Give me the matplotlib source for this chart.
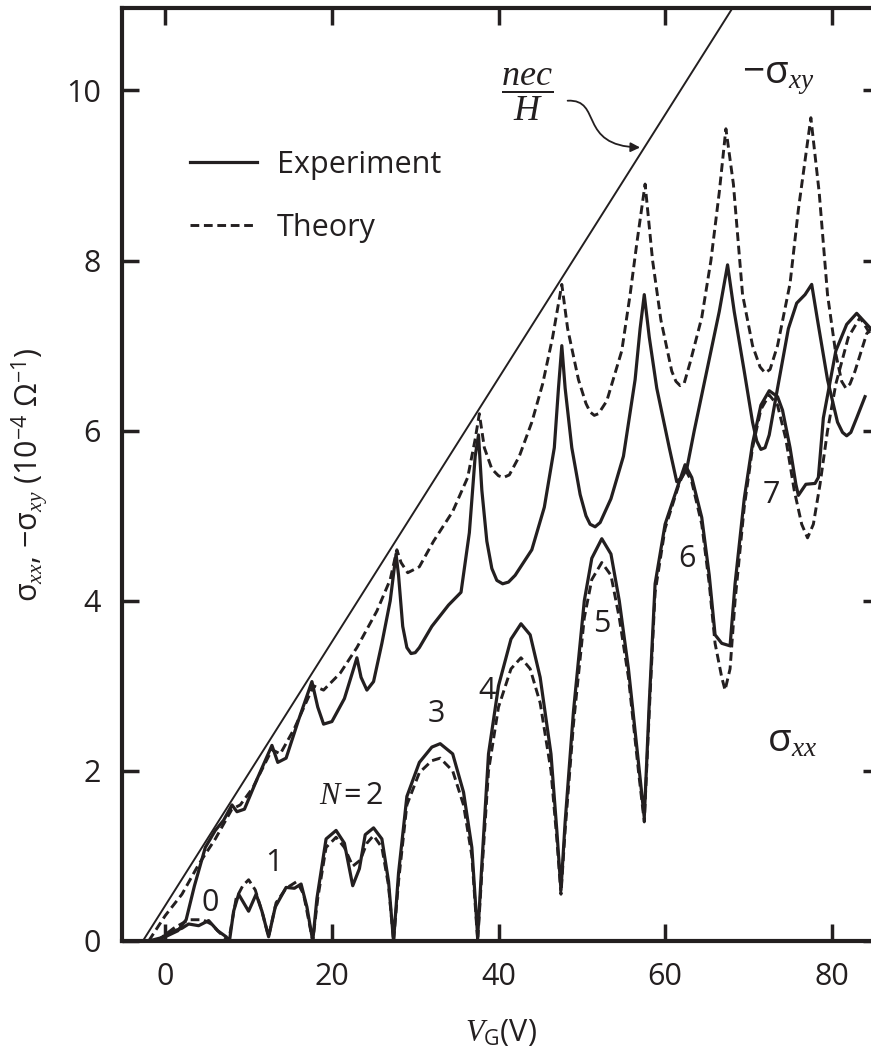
import matplotlib
matplotlib.use("Agg")
import matplotlib.pyplot as plt
import matplotlib.patches as mpatches
from matplotlib.path import Path

plt.rcParams['font.family'] = ['Open Sans', 'DejaVu Sans']
plt.rcParams['mathtext.fontset'] = 'custom'
plt.rcParams['mathtext.rm'] = 'Open Sans'
plt.rcParams['mathtext.it'] = 'Liberation Serif:italic'
plt.rcParams['mathtext.sf'] = 'Open Sans'
plt.rcParams['mathtext.fallback'] = 'stix'

INK = '#231f20'

# nec/H straight line
nec_x = [-2.7, 71.0]
nec_y = [0.0, 11.42]

# -sigma_xy, experiment
xy_exp_x = [-2.0, 0.0, 1.5, 2.5, 3.5, 4.8, 6.0, 7.0, 8.0, 8.6, 9.5, 11.0, 12.8, 13.5, 14.5,
            16.0, 17.6, 18.3, 19.0, 20.0, 21.5, 22.6, 23.0, 23.5, 24.2, 25.0, 26.0, 27.0, 27.7,
            28.0, 28.5, 29.0, 29.5, 30.0, 30.5, 32.0, 34.0, 35.5, 36.5, 37.2, 37.6, 38.0, 38.6,
            39.2, 39.8, 40.5, 41.2, 42.0, 44.0, 45.5, 46.7, 47.2, 47.6, 48.0, 48.8, 49.8, 50.5,
            51.0, 51.6, 52.2, 53.5, 55.0, 56.4, 57.0, 57.5, 58.1, 59.0, 60.5, 61.4, 62.0, 62.6,
            63.5, 65.0, 66.5, 67.5, 68.3, 69.5, 70.5, 71.0, 71.5, 72.0, 72.5, 73.5, 74.8, 75.8,
            76.8, 77.6, 78.3, 79.5, 80.7, 81.3, 81.8, 82.3, 83.0, 84.0]
xy_exp_y = [0.0, 0.05, 0.12, 0.25, 0.65, 1.1, 1.3, 1.42, 1.6, 1.52, 1.55, 1.9, 2.3, 2.1, 2.15,
            2.6, 3.05, 2.75, 2.55, 2.58, 2.85, 3.2, 3.33, 3.1, 2.95, 3.05, 3.5, 4.0, 4.55,
            4.3, 3.7, 3.45, 3.38, 3.39, 3.45, 3.7, 3.95, 4.1, 4.8, 5.7, 5.95, 5.3, 4.7,
            4.38, 4.24, 4.2, 4.22, 4.3, 4.6, 5.1, 5.8, 6.5, 7.0, 6.5, 5.8, 5.25, 5.0,
            4.9, 4.87, 4.92, 5.2, 5.7, 6.6, 7.2, 7.6, 7.1, 6.5, 5.8, 5.4, 5.45, 5.55,
            6.0, 6.7, 7.4, 7.95, 7.4, 6.7, 6.1, 5.88, 5.78, 5.8, 5.95, 6.5, 7.2, 7.5,
            7.6, 7.72, 7.3, 6.6, 6.1, 5.98, 5.94, 5.98, 6.15, 6.4]

# -sigma_xy, theory
xy_th_x = [-2.0, 0.0, 2.0, 4.0, 6.0, 8.0, 9.0, 10.5, 12.8, 13.8, 15.5, 17.8, 19.0, 21.0, 23.0,
           25.4, 27.0, 27.8, 28.3, 29.1, 30.5, 32.2, 34.5, 36.3, 37.2, 37.7, 38.3, 39.2, 40.0,
           40.6, 41.3, 42.5, 44.0, 45.3, 46.5, 47.6, 48.3, 49.6, 50.5, 51.0, 51.5, 52.0, 53.0,
           54.8, 55.8, 56.6, 57.6, 58.5, 59.5, 60.8, 61.3, 61.8, 62.3, 63.0, 64.4, 65.5, 66.5,
           67.3, 68.2, 69.3, 70.5, 71.4, 72.0, 72.6, 73.5, 75.0, 76.0, 77.5, 78.5, 79.5, 80.5,
           81.2, 81.7, 82.2, 82.8, 84.2, 85.5]
xy_th_y = [0.0, 0.3, 0.55, 0.9, 1.2, 1.55, 1.6, 1.8, 2.25, 2.2, 2.5, 3.0, 2.95, 3.15, 3.45,
           3.88, 4.25, 4.6, 4.45, 4.33, 4.4, 4.7, 5.05, 5.45, 5.9, 6.2, 5.8, 5.55, 5.47,
           5.45, 5.48, 5.7, 6.1, 6.55, 7.1, 7.72, 7.2, 6.6, 6.32, 6.22, 6.18, 6.2, 6.35,
           6.94, 7.6, 8.2, 8.9, 8.0, 7.3, 6.7, 6.58, 6.53, 6.56, 6.8, 7.33, 8.0, 8.8,
           9.55, 8.9, 7.6, 7.0, 6.75, 6.68, 6.72, 7.0, 7.73, 8.6, 9.68, 8.8, 7.6, 6.9,
           6.58, 6.5, 6.55, 6.7, 7.14, 7.3]

# sigma_xx, experiment
xx_exp_x = [-1.0, 0.5, 2.0, 2.8, 4.0, 5.2, 6.3, 7.3, 7.7, 8.2, 8.8, 9.4, 10.0, 10.9, 11.6, 12.4,
            13.2, 14.5, 15.5, 16.3, 17.0, 17.7, 18.2, 19.3, 20.5, 21.5, 22.5, 23.3, 24.0, 25.0,
            26.0, 26.8, 27.4, 28.0, 29.0, 30.5, 32.0, 33.0, 34.5, 35.8, 36.8, 37.5, 38.0, 38.8,
            40.0, 41.5, 42.7, 43.8, 45.0, 46.3, 47.0, 47.5, 48.0, 49.0, 50.3, 51.2, 52.4, 53.5,
            54.5, 55.6, 56.8, 57.5, 58.1, 58.8, 60.0, 61.6, 62.4, 63.2, 64.4, 65.3, 66.0, 66.8,
            67.8, 68.4, 69.5, 70.5, 71.5, 72.5, 73.5, 74.1, 75.0, 75.7, 76.0, 76.9, 78.0, 78.4,
            79.0, 80.5, 81.8, 83.0, 84.6]
xx_exp_y = [0.0, 0.1, 0.15, 0.2, 0.18, 0.24, 0.12, 0.05, 0.0, 0.35, 0.55, 0.45, 0.35, 0.55, 0.35, 0.05,
            0.4, 0.63, 0.62, 0.67, 0.4, 0.0, 0.5, 1.2, 1.3, 1.15, 0.65, 0.85, 1.25, 1.33,
            1.2, 0.7, 0.0, 0.8, 1.7, 2.1, 2.28, 2.32, 2.2, 1.75, 1.1, 0.05, 0.9, 2.2,
            3.0, 3.55, 3.73, 3.6, 3.1, 2.2, 1.3, 0.6, 1.4, 2.7, 4.0, 4.5, 4.73, 4.55,
            4.0, 3.2, 2.1, 1.45, 2.8, 4.2, 4.9, 5.37, 5.6, 5.45, 4.98, 4.3, 3.6, 3.5,
            3.47, 4.2, 5.2, 5.85, 6.3, 6.47, 6.4, 6.24, 5.8, 5.37, 5.24, 5.37, 5.38, 5.45,
            6.15, 6.94, 7.25, 7.38, 7.21]

# sigma_xx, theory
xx_th_x = [-1.0, 1.0, 2.8, 4.5, 5.5, 6.5, 7.6, 8.5, 9.3, 10.0, 10.8, 11.6, 12.4, 13.3, 14.5,
           15.8, 16.6, 17.7, 18.3, 19.3, 20.5, 21.5, 22.5, 23.4, 24.2, 25.0, 26.0, 26.8, 27.4,
           28.0, 29.0, 30.5, 32.0, 33.0, 34.5, 35.8, 36.8, 37.5, 38.0, 38.8, 40.0, 41.5, 42.7,
           43.8, 45.0, 46.3, 47.0, 47.5, 48.0, 49.0, 50.3, 51.2, 52.4, 53.5, 54.5, 55.6, 56.8,
           57.5, 58.1, 58.8, 60.0, 61.6, 62.4, 63.2, 64.4, 65.3, 66.0, 66.8, 67.2, 67.8, 68.4,
           69.5, 70.5, 71.5, 72.5, 73.5, 74.5, 75.5, 76.4, 77.1, 77.8, 78.6, 79.5, 80.5, 82.0,
           83.4, 85.5]
xx_th_y = [0.0, 0.15, 0.25, 0.25, 0.2, 0.1, 0.0, 0.5, 0.65, 0.72, 0.6, 0.35, 0.05, 0.45, 0.62,
           0.7, 0.55, 0.0, 0.5, 1.1, 1.22, 1.1, 0.88, 0.95, 1.15, 1.24, 1.1, 0.65, 0.0,
           0.7, 1.6, 1.98, 2.12, 2.15, 2.0, 1.6, 1.0, 0.0, 0.8, 2.0, 2.75, 3.2, 3.33,
           3.2, 2.8, 2.0, 1.2, 0.55, 1.3, 2.55, 3.8, 4.25, 4.45, 4.3, 3.8, 3.1, 2.0,
           1.4, 2.7, 4.1, 4.85, 5.35, 5.55, 5.4, 4.9, 4.2, 3.5, 3.1, 2.95, 3.2, 4.0,
           5.1, 5.8, 6.25, 6.42, 6.3, 5.9, 5.3, 4.9, 4.74, 4.9, 5.37, 6.0, 6.55, 7.1,
           7.33, 7.0]

# Landau level labels
level_labels = ['0', '1', '$N = 2$', '3', '4', '5', '6', '7']
level_x = [5.4, 13.1, 22.3, 32.6, 38.6, 52.4, 62.6, 72.7]
level_y = [0.45, 0.92, 1.7, 2.67, 2.94, 3.73, 4.49, 5.24]

fig = plt.figure(figsize=(8.71, 10.59), dpi=100)
ax = fig.add_axes([122 / 871, 118 / 1059, (880 - 122) / 871, (1051 - 118) / 1059])

ax.plot(nec_x, nec_y, color=INK, lw=1.4)
ax.plot(xy_exp_x, xy_exp_y, color=INK, lw=2.3, label='Experiment')
ax.plot(xy_th_x, xy_th_y, color=INK, lw=2.1, dashes=(3, 1.6), label='Theory')
ax.plot(xx_exp_x, xx_exp_y, color=INK, lw=2.3)
ax.plot(xx_th_x, xx_th_y, color=INK, lw=2.1, dashes=(3, 1.6))

ax.set_xlim(-5.2, 85.8)
ax.set_ylim(0, 10.97)
ax.set_xticks([0, 20, 40, 60, 80])
ax.set_yticks([0, 2, 4, 6, 8, 10])
ax.tick_params(direction='in', length=12, width=2.5, color=INK, labelsize=22,
               labelcolor=INK, top=True, right=True, pad=15)
for s in ax.spines.values():
    s.set_linewidth(3)
    s.set_color(INK)

ax.set_xlabel('$V_{\\mathrm{G}}$(V)', fontsize=22, color=INK, labelpad=18)
ax.set_ylabel('σ$_{xx}$, −σ$_{xy}$ (10$^{-4}$ Ω$^{-1}$)', fontsize=22, color=INK, labelpad=12)

for lab, lx, ly in zip(level_labels, level_x, level_y):
    ax.text(lx, ly, lab, fontsize=22, color=INK, ha='center', va='center')

ax.text(75.2, 2.35, 'σ$_{xx}$', fontsize=28, color=INK, ha='center', va='center')
ax.text(73.6, 10.15, '−σ$_{xy}$', fontsize=28, color=INK, ha='center', va='center')
ax.text(43.4, 9.95, r'$\dfrac{nec}{H}$', fontsize=26, color=INK, ha='center', va='center')

# squiggly pointer from the nec/H label to the line
squiggle = Path([(48.3, 9.88), (52.5, 9.9), (49.5, 9.35), (57.0, 9.33)],
                [Path.MOVETO, Path.CURVE4, Path.CURVE4, Path.CURVE4])
ax.add_patch(mpatches.FancyArrowPatch(path=squiggle, arrowstyle='-|>', color=INK,
                                      lw=1.3, mutation_scale=14))

ax.legend(loc='upper left', bbox_to_anchor=(0.0897, 0.848), frameon=False, fontsize=22,
          handlelength=2.2, handletextpad=0.65, labelspacing=1.07, labelcolor=INK,
          borderpad=0, borderaxespad=0)

fig.savefig('out.png', dpi=100)
